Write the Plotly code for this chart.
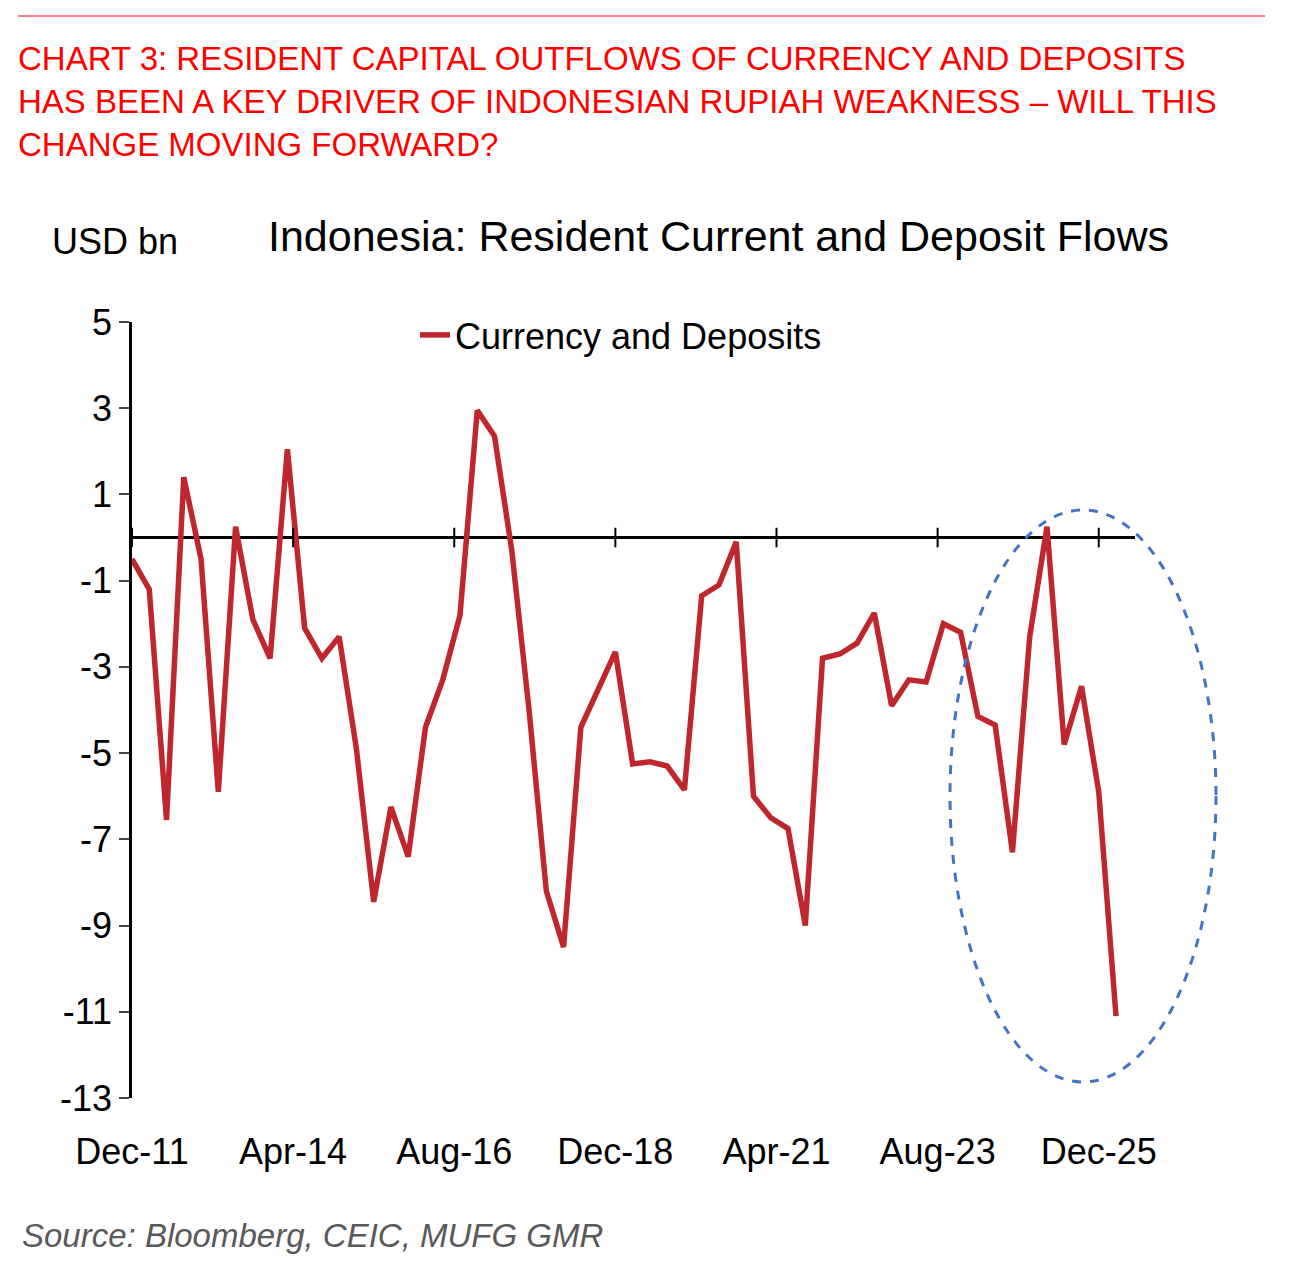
import plotly.graph_objects as go

quarters = [f"{y}Q{q}" for y in range(2011, 2027) for q in (1, 2, 3, 4)][3:3+58]
values = [-0.5, -1.2, -6.55, 1.4, -0.5, -5.9, 0.25, -1.9, -2.8, 2.05,
          -2.1, -2.8, -2.3, -4.9, -8.45, -6.25, -7.4, -4.4, -3.3, -1.8,
          2.95, 2.35, -0.3, -4.0, -8.2, -9.5, -4.4, -3.5, -2.65, -5.25,
          -5.2, -5.3, -5.85, -1.35, -1.1, -0.1, -6.0, -6.5, -6.75, -9.0,
          -2.8, -2.7, -2.45, -1.75, -3.9, -3.3, -3.35, -2.0, -2.2, -4.15,
          -4.35, -7.3, -2.3, 0.25, -4.8, -3.45, -5.9, -11.1]
tick_labels = ["Dec-11", "Apr-14", "Aug-16", "Dec-18", "Apr-21", "Aug-23", "Dec-25"]
tick_pos = [i * 28 / 3 for i in range(len(tick_labels))]
y_ticks = [5, 3, 1, -1, -3, -5, -7, -9, -11, -13]
y_text = [str(v) for v in y_ticks]

x = list(range(len(values)))
F = "Liberation Sans, Arial, sans-serif"
OFF = 8
L, T, W, H = 132 - OFF, 322 - OFF, 1003, 776

def px(p):
    return (p - OFF - L) / W

def py(p):
    return (T + H - (p - OFF)) / H

fig = go.Figure()
fig.add_trace(go.Scatter(x=x, y=values, mode="lines", name="Currency and Deposits",
                         line=dict(color="#C0272D", width=5.5)))
fig.add_trace(go.Scatter(x=tick_pos, y=[0]*len(tick_pos), mode="markers", showlegend=False,
                         hoverinfo="skip", cliponaxis=False,
                         marker=dict(symbol="line-ns", size=14, line=dict(color="black", width=2))))

fig.update_layout(
    width=1291, height=1270, paper_bgcolor="white", plot_bgcolor="white",
    margin=dict(l=L, r=1291 - L - W, t=T, b=1270 - T - H),
    font=dict(family=F, size=36, color="black"),
    showlegend=True,
    legend=dict(x=px(415), y=py(305), xanchor="left", yanchor="top", bgcolor="rgba(0,0,0,0)",
                font=dict(size=36)),
    xaxis=dict(range=[0, 58.1], tickvals=tick_pos, ticktext=tick_labels, showgrid=False,
               zeroline=False, showline=False, ticks="outside", ticklen=22, tickcolor="white",
               tickfont=dict(size=36)),
    yaxis=dict(range=[-13, 5], tickvals=y_ticks, ticktext=y_text, showgrid=False, zeroline=True,
               zerolinecolor="black", zerolinewidth=2.5, showline=True, linecolor="black",
               linewidth=2.5, ticks="outside", ticklen=10, tickwidth=2, tickfont=dict(size=36)),
    shapes=[
        dict(type="line", xref="paper", yref="paper", x0=px(18), x1=px(1265),
             y0=py(16), y1=py(16), line=dict(color="#FF0000", width=1)),
        dict(type="circle", xref="paper", yref="paper", x0=px(950), x1=px(1216),
             y0=py(1082), y1=py(510), line=dict(color="#4472C4", width=3, dash="dash")),
    ],
    annotations=[
        dict(xref="paper", yref="paper", x=px(16), y=py(38), xanchor="left", yanchor="top",
             align="left", showarrow=False,
             text="CHART 3: RESIDENT CAPITAL OUTFLOWS OF CURRENCY AND DEPOSITS<br>HAS BEEN A KEY DRIVER OF INDONESIAN RUPIAH WEAKNESS – WILL THIS<br>CHANGE MOVING FORWARD?",
             font=dict(size=33, color="#FF0000")),
        dict(xref="paper", yref="paper", x=px(50), y=py(242), xanchor="left",
             yanchor="middle", showarrow=False, text="USD bn", font=dict(size=36)),
        dict(xref="paper", yref="paper", x=px(718), y=py(236), xanchor="center",
             yanchor="middle", showarrow=False, text="Indonesia: Resident Current and Deposit Flows",
             font=dict(size=43)),
        dict(xref="paper", yref="paper", x=px(20), y=py(1235), xanchor="left",
             yanchor="middle", showarrow=False, text="<i>Source: Bloomberg, CEIC, MUFG GMR</i>",
             font=dict(size=33, color="#595959")),
    ],
)
fig.write_html("out.html")
